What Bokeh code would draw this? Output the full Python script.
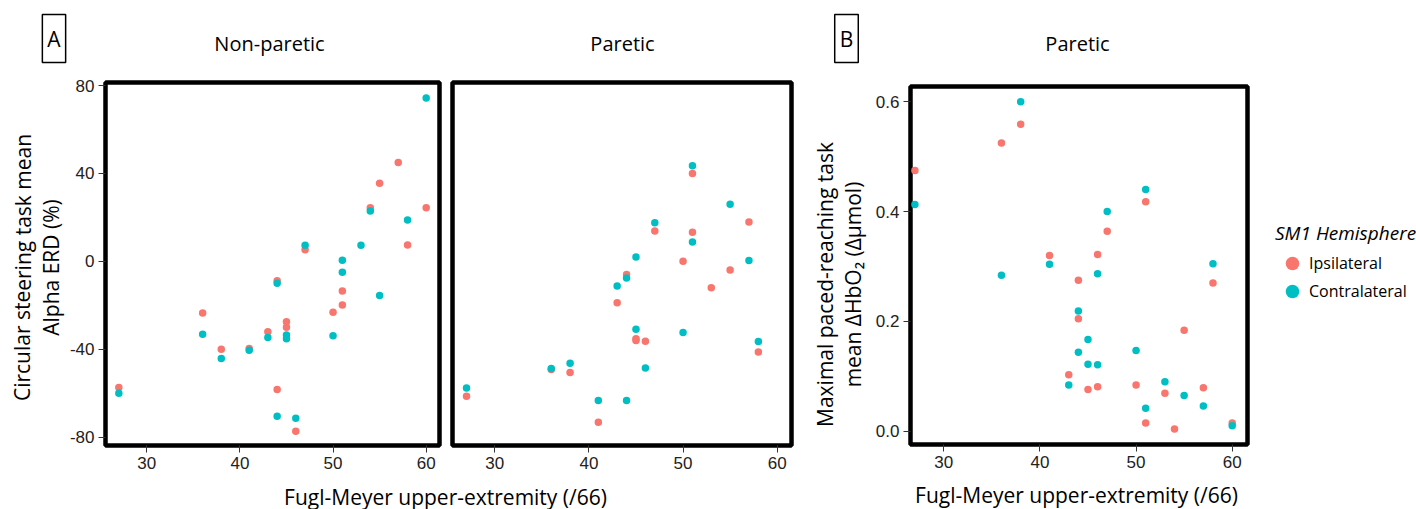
from bokeh.plotting import figure
from bokeh.models import (Label, Legend, LegendItem, FixedTicker, Range1d,
                          PrintfTickFormatter)
from bokeh.layouts import row, column
from bokeh.embed import file_html
from bokeh.resources import INLINE

RED = "#F8766D"
CYAN = "#00BFC4"

# ---------------- data ----------------
# Panel A, non-paretic hemisphere analysis (Alpha ERD %)
np_ipsi_fm = [27, 36, 38, 41, 43, 44, 44, 45, 45, 46, 47, 50, 51, 51, 54, 55, 57, 58, 60]
np_ipsi_erd = [-57.4, -23.5, -40.0, -39.6, -32.0, -8.8, -58.3, -27.5, -30.0, -77.3, 5.3,
               -23.2, -13.5, -19.9, 24.4, 35.6, 45.0, 7.4, 24.4]
np_contra_fm = [27, 36, 38, 41, 43, 44, 44, 45, 45, 46, 47, 50, 51, 51, 53, 54, 55, 58, 60]
np_contra_erd = [-60.0, -33.2, -44.2, -40.5, -34.6, -10.0, -70.5, -33.5, -35.2, -71.4, 7.3,
                 -33.8, 0.5, -4.9, 7.3, 22.9, -15.5, 18.8, 74.4]

# Panel A, paretic
p_ipsi_fm = [27, 36, 38, 41, 43, 44, 45, 45, 46, 47, 50, 51, 51, 53, 55, 57, 58]
p_ipsi_erd = [-61.4, -49.2, -50.6, -73.2, -18.8, -6.0, -35.2, -36.0, -36.4, 13.8, 0.1,
              40.0, 13.3, -12.0, -3.9, 17.9, -41.2]
p_contra_fm = [27, 36, 38, 41, 43, 44, 44, 45, 45, 46, 47, 50, 51, 51, 55, 57, 58]
p_contra_erd = [-57.6, -48.8, -46.4, -63.3, -11.2, -7.6, -63.3, 2.0, -30.9, -48.5, 17.6,
                -32.4, 43.5, 8.8, 26.0, 0.4, -36.5]

# Panel B, paretic (mean dHbO2)
b_ipsi_fm = [27, 36, 38, 41, 43, 44, 44, 45, 46, 46, 47, 50, 51, 51, 53, 54, 55, 57, 58, 60]
b_ipsi_hbo = [0.475, 0.525, 0.559, 0.320, 0.103, 0.275, 0.205, 0.076, 0.322, 0.081, 0.364,
              0.084, 0.418, 0.015, 0.069, 0.004, 0.184, 0.079, 0.270, 0.015]
b_contra_fm = [27, 36, 38, 41, 43, 44, 44, 45, 45, 46, 46, 47, 50, 51, 51, 53, 55, 57, 58, 60]
b_contra_hbo = [0.413, 0.284, 0.600, 0.304, 0.084, 0.219, 0.144, 0.167, 0.122, 0.287, 0.121,
                0.400, 0.147, 0.440, 0.042, 0.090, 0.065, 0.046, 0.305, 0.010]

x_ticks = [30, 40, 50, 60]
erd_ticks = [-80, -40, 0, 40, 80]
hbo_ticks = [0.0, 0.2, 0.4, 0.6]

group_labels = ["Ipsilateral", "Contralateral"]
legend_title = "SM1 Hemisphere"
facet_titles = ["Non-paretic", "Paretic", "Paretic"]
x_title = "Fugl-Meyer upper-extremity (/66)"
ya_lines = ["Circular steering task mean", "Alpha ERD (%)"]
yb_lines = ["Maximal paced-reaching task", "mean \u0394HbO\u2082 (\u0394\u03bcmol)"]

TXT_FONT = "Open Sans"
TICK_FONT = "Liberation Sans"
VERT = 1.5707963
NAN = float("nan")


def make_fig(width, height, xr, yr, bl, br, bt, bb, yticks, yfmt, show_y=True):
    p = figure(width=width, height=height, x_range=Range1d(*xr), y_range=Range1d(*yr),
               output_backend="svg", toolbar_location=None,
               min_border_left=bl, min_border_right=br,
               min_border_top=bt, min_border_bottom=bb)
    p.xgrid.visible = False
    p.ygrid.visible = False
    p.outline_line_color = "black"
    p.outline_line_width = 4.5
    p.outline_line_alpha = 1.0
    p.background_fill_color = "white"
    p.border_fill_color = "white"
    for ax in p.axis:
        ax.axis_line_color = None
        ax.major_tick_line_color = "#333333"
        ax.major_tick_out = 7
        ax.major_tick_in = 0
        ax.minor_tick_line_color = None
        ax.major_label_text_font = TICK_FONT
        ax.major_label_text_font_size = "17px"
        ax.major_label_text_color = "#222222"
    p.xaxis.ticker = FixedTicker(ticks=x_ticks)
    p.xaxis.formatter = PrintfTickFormatter(format="%d")
    p.xaxis.major_label_standoff = 4
    p.yaxis.ticker = FixedTicker(ticks=yticks)
    p.yaxis.formatter = PrintfTickFormatter(format=yfmt)
    p.yaxis.major_label_standoff = 4
    if not show_y:
        p.yaxis.visible = False
    return p


def strip_fig(width, height):
    s = figure(width=width, height=height, x_range=Range1d(0, 1), y_range=Range1d(0, 1),
               output_backend="svg", toolbar_location=None, min_border=0)
    s.axis.visible = False
    s.grid.visible = False
    s.outline_line_color = None
    s.background_fill_color = "white"
    s.border_fill_color = "white"
    return s


def txt(p, text, x, y, size="20px", angle=0.0, **kw):
    lab = Label(x=x, y=y, x_units="screen", y_units="screen", text=text,
                text_font=TXT_FONT, text_font_size=size, text_color="black",
                text_align="center", text_baseline="middle", angle=angle, **kw)
    p.add_layout(lab)
    return lab


# ================= Panel A block (page x 0..800) =================
topA = strip_fig(800, 76)
txt(topA, "A", 53.5, 38, size="21px", border_line_color="black", border_line_width=1.5,
    padding=(5, 10), background_fill_color="white")
txt(topA, facet_titles[0], 269, 33)
txt(topA, facet_titles[1], 622, 33)

# in a row the frames are aligned: the strip's frame spans page y 82..445
yA = strip_fig(66, 402)
txt(yA, ya_lines[0], 22, 178, size="21px", angle=VERT)
txt(yA, ya_lines[1], 50, 178, size="21px", angle=VERT)

f1 = make_fig(380, 402, (25.57, 61.43), (-83.8, 81.4), 36, 7, 6, 33, erd_ticks, "%d")
f1.scatter(np_ipsi_fm, np_ipsi_erd, size=7.5, color=RED, line_color=None)
f1.scatter(np_contra_fm, np_contra_erd, size=7.5, color=CYAN, line_color=None)

f2 = make_fig(354, 402, (25.51, 61.52), (-83.8, 81.4), 6, 9, 6, 33, erd_ticks, "%d",
              show_y=False)
f2.scatter(p_ipsi_fm, p_ipsi_erd, size=7.5, color=RED, line_color=None)
f2.scatter(p_contra_fm, p_contra_erd, size=7.5, color=CYAN, line_color=None)

xA = strip_fig(800, 31)
txt(xA, x_title, 445, 13, size="21px")

blockA = column(topA, row(yA, f1, f2), xA)

# ================= Panel B block (page x 800..1416) =================
topB = strip_fig(616, 80)
txt(topB, "B", 46, 42, size="21px", border_line_color="black", border_line_width=1.5,
    padding=(5, 10), background_fill_color="white")
txt(topB, facet_titles[2], 277, 37)

# frame of this strip spans page y 86..444
yB = strip_fig(68, 400)
txt(yB, yb_lines[0], 24, 160, size="21px", angle=VERT)
txt(yB, yb_lines[1], 52, 160, size="21px", angle=VERT)

f3 = make_fig(394, 400, (26.54, 61.59), (-0.0242, 0.6278), 42, 15, 6, 36, hbo_ticks, "%.1f")
f3.scatter(b_ipsi_fm, b_ipsi_hbo, size=7.5, color=RED, line_color=None)
f3.scatter(b_contra_fm, b_contra_hbo, size=7.5, color=CYAN, line_color=None)

# legend panel (keys only, no data drawn)
legfig = strip_fig(154, 400)
lr1 = legfig.scatter([NAN], [NAN], size=7.5, color=RED, line_color=None)
lr2 = legfig.scatter([NAN], [NAN], size=7.5, color=CYAN, line_color=None)
common = dict(label_text_font=TXT_FONT, label_text_font_size="16px", label_text_color="black",
              glyph_width=34, glyph_height=34, spacing=0, label_standoff=0,
              padding=0, margin=0, border_line_color=None, background_fill_alpha=0.0)
legend1 = Legend(items=[LegendItem(label=group_labels[0], renderers=[lr1])],
                 location=(13, 164), title=legend_title,
                 title_text_font=TXT_FONT, title_text_font_style="italic",
                 title_text_font_size="19px", title_text_color="black", title_standoff=0,
                 **common)
legend2 = Legend(items=[LegendItem(label=group_labels[1], renderers=[lr2])],
                 location=(13, 136), **common)
legfig.add_layout(legend1)
legfig.add_layout(legend2)

xB = strip_fig(616, 29)
txt(xB, x_title, 276, 15, size="21px")

blockB = column(topB, row(yB, f3, legfig), xB)

layout = row(blockA, blockB)

open("out.html", "w").write(file_html(layout, INLINE))
